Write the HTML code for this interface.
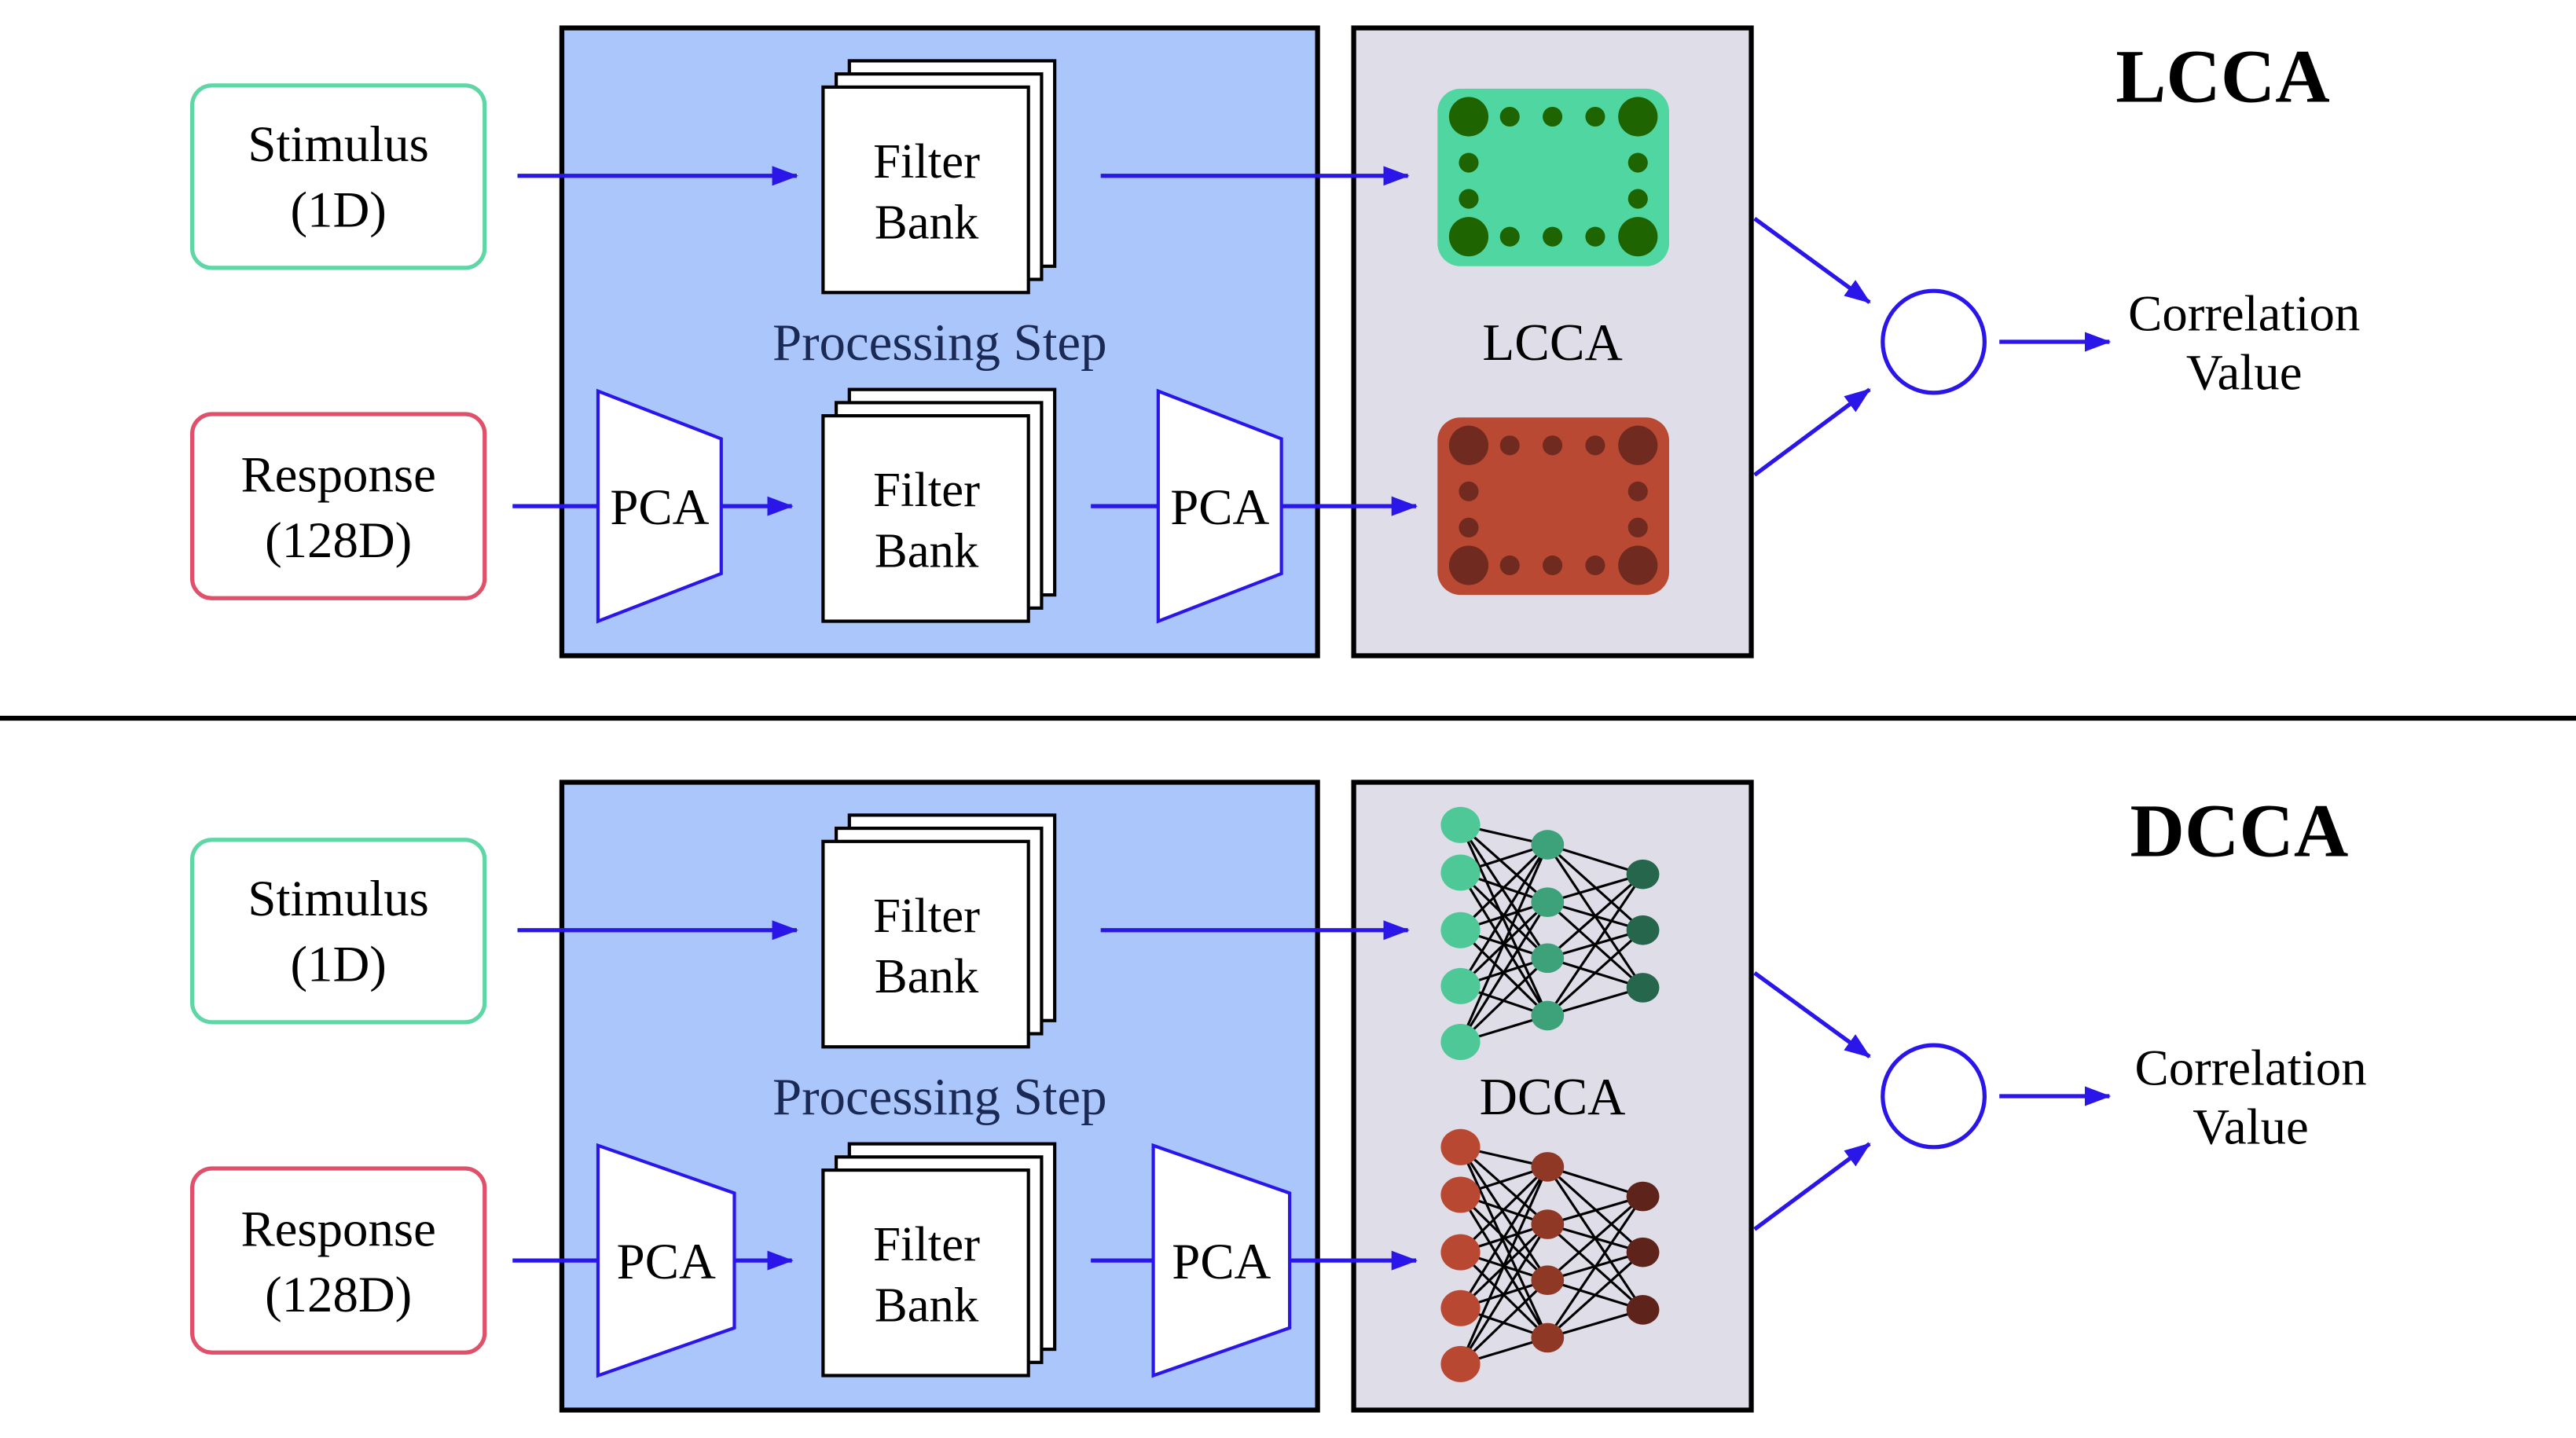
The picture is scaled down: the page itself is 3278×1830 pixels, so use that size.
<!DOCTYPE html>
<html><head><meta charset="utf-8"><style>
html,body{margin:0;padding:0;background:#fff}
svg{display:block}
</style></head><body>
<svg id="s" width="3278" height="1830" viewBox="0 0 1568 875" preserveAspectRatio="none" xmlns="http://www.w3.org/2000/svg">
<defs>
<marker id="a" markerWidth="16" markerHeight="12" refX="15" refY="6" orient="auto" markerUnits="userSpaceOnUse">
<path d="M0,0 L16,6 L0,12 Z" fill="#2a16e8"/></marker>
</defs>
<g id="g"></g>
</svg>
<script>
const NS="http://www.w3.org/2000/svg",g=document.getElementById('g');
function el(t,a,txt){const e=document.createElementNS(NS,t);for(const k in a)e.setAttribute(k,a[k]);if(txt!==undefined)e.textContent=txt;g.appendChild(e);return e;}
function arrow(x1,y1,x2,y2){el('line',{x1,y1,x2,y2,stroke:'#2a16e8','stroke-width':2.5,'marker-end':'url(#a)'});}
function txt(x,y,s,size,extra){const e=el('text',Object.assign({x,y,'font-size':size,'text-anchor':'middle',fill:'#000','font-family':"'Liberation Serif', 'Times New Roman', serif"},extra||{}),s);e.style.fontFamily="'Liberation Serif', serif";return e;}
function fb(x,y){for(let i=2;i>=0;i--){el('rect',{x:x+i*8,y:y-i*8,width:125,height:125,fill:'#fff',stroke:'#000','stroke-width':2});}
 txt(x+63,y+55,'Filter',30);txt(x+63,y+92,'Bank',30);}
function pca(x,y,w){el('polygon',{points:`${x},${y} ${x+w},${y+29} ${x+w},${y+111} ${x},${y+140}`,fill:'#fff',stroke:'#2a16e8','stroke-width':2});txt(x+w/2,y+81,'PCA',31);}
function panel(oy,title,isL){
 el('rect',{x:117,y:52+oy,width:178,height:111,rx:12,fill:'#fff',stroke:'#5fd6a6','stroke-width':2.5});
 txt(206,98+oy,'Stimulus',31);txt(206,138+oy,'(1D)',31);
 el('rect',{x:117,y:252+oy,width:178,height:112,rx:12,fill:'#fff',stroke:'#e0506a','stroke-width':2.5});
 txt(206,299+oy,'Response',31);txt(206,339+oy,'(128D)',31);
 el('rect',{x:342,y:17+oy,width:460,height:382,fill:'#aac6fb',stroke:'#000','stroke-width':3});
 el('rect',{x:824,y:17+oy,width:242,height:382,fill:'#dfdde8',stroke:'#000','stroke-width':3});
 fb(501,53+oy);fb(501,253+oy);
 txt(572,219+oy,'Processing Step',32,{fill:'#1a2a55'});
 arrow(315,107+oy,485,107+oy);arrow(670,107+oy,857,107+oy);
 const pw=isL?75:83;
 el('line',{x1:312,y1:308+oy,x2:364,y2:308+oy,stroke:'#2a16e8','stroke-width':2.5});
 pca(364,238+oy,pw);arrow(364+pw,308+oy,482,308+oy);
 const p2=isL?705:702;
 el('line',{x1:664,y1:308+oy,x2:p2,y2:308+oy,stroke:'#2a16e8','stroke-width':2.5});
 pca(p2,238+oy,pw);arrow(p2+pw,308+oy,862,308+oy);
 arrow(1068,133+oy,1138,184+oy);arrow(1068,289+oy,1138,237+oy);
 el('circle',{cx:1177,cy:208+oy,r:31,fill:'#fff',stroke:'#2a16e8','stroke-width':2.5});
 arrow(1217,208+oy,1284,208+oy);
 const cx=isL?1366:1370;
 txt(cx,201+oy,'Correlation',31);txt(cx,237+oy,'Value',31);
 txt(isL?1353:1363,62+oy,title,46,{'font-weight':'bold'});
 txt(945,219+oy,title,32);
}
function grid(y,bg,dk){
 el('rect',{x:875,y,width:141,height:108,rx:14,fill:bg});
 const X=[894,919,945,971,997],Y=[y+17,y+45,y+67,y+90];
 [[0,0],[4,0],[0,3],[4,3]].forEach(([i,j])=>el('ellipse',{cx:X[i],cy:Y[j],rx:12,ry:12,fill:dk}));
 [1,2,3].forEach(i=>{el('circle',{cx:X[i],cy:Y[0],r:6,fill:dk});el('circle',{cx:X[i],cy:Y[3],r:6,fill:dk});});
 [1,2].forEach(j=>{el('circle',{cx:X[0],cy:Y[j],r:6,fill:dk});el('circle',{cx:X[4],cy:Y[j],r:6,fill:dk});});
}
function net(y0,c1,c2,c3){
 const A=[0,29,64,98,132].map(v=>[889,y0+v]),B=[12,47,81,116].map(v=>[942,y0+v]),C=[30,64,99].map(v=>[1000,y0+v]);
 A.forEach(a=>B.forEach(b=>el('line',{x1:a[0],y1:a[1],x2:b[0],y2:b[1],stroke:'#000','stroke-width':1.5})));
 B.forEach(a=>C.forEach(b=>el('line',{x1:a[0],y1:a[1],x2:b[0],y2:b[1],stroke:'#000','stroke-width':1.5})));
 A.forEach(a=>el('ellipse',{cx:a[0],cy:a[1],rx:12,ry:11,fill:c1}));
 B.forEach(a=>el('ellipse',{cx:a[0],cy:a[1],rx:10,ry:9,fill:c2}));
 C.forEach(a=>el('ellipse',{cx:a[0],cy:a[1],rx:10,ry:9,fill:c3}));
}
panel(0,'LCCA',true);
grid(54,'#50d6a0','#1e6400');grid(254,'#b94932','#702a20');
el('line',{x1:0,y1:437,x2:1568,y2:437,stroke:'#000','stroke-width':3});
panel(459,'DCCA',false);
net(502,'#4dc896','#3da27a','#26664c');
net(698,'#b94832','#8f3826','#5e241c');
</script>
</body></html>
